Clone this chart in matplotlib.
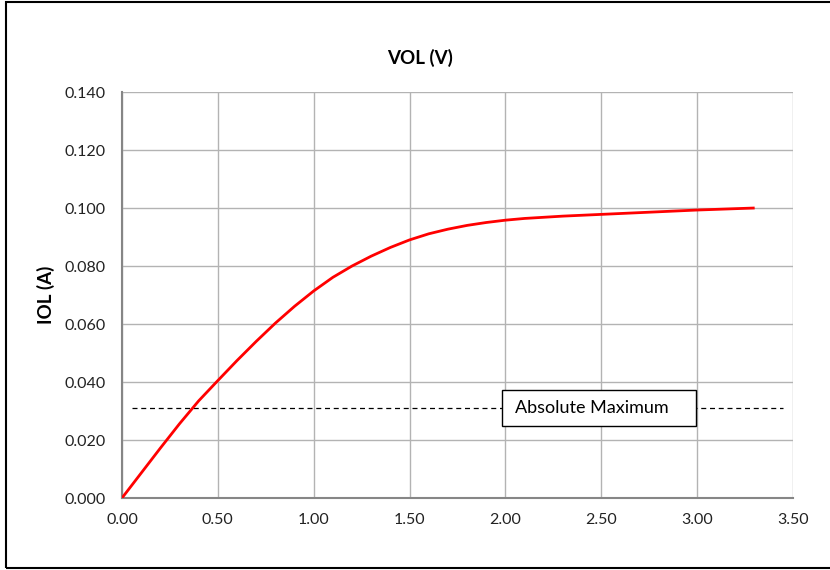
import matplotlib.pyplot as plt
from matplotlib.patches import Rectangle

plt.rcParams['font.family'] = ['Lato', 'DejaVu Sans']

# curve values
vol = [0, 0.1, 0.2, 0.3, 0.4, 0.5, 0.6, 0.7, 0.8, 0.9, 1.0, 1.1, 1.2, 1.3,
       1.4, 1.5, 1.6, 1.7, 1.8, 1.9, 2.0, 2.1, 2.2, 2.3, 2.5, 2.8, 3.0, 3.3]
iol = [0, 0.0086, 0.0172, 0.0256, 0.0335, 0.0405, 0.0474, 0.0540, 0.0603,
       0.0661, 0.0714, 0.0761, 0.0800, 0.0834, 0.0864, 0.0890, 0.0911,
       0.0927, 0.0940, 0.0950, 0.0958, 0.0964, 0.0968, 0.0972, 0.0978,
       0.0987, 0.0993, 0.1000]

abs_max = 0.031
abs_max_x = [0.05, 3.45]
x_ticks = [0.0, 0.5, 1.0, 1.5, 2.0, 2.5, 3.0, 3.5]
y_ticks = [0.0, 0.02, 0.04, 0.06, 0.08, 0.10, 0.12, 0.14]

fig = plt.figure(figsize=(8.3, 5.7), dpi=100)
ax = fig.add_axes([122 / 830, 72 / 570, 671 / 830, 406 / 570])

ax.plot(vol, iol, color='#ff0000', lw=2, zorder=5, solid_capstyle='butt', solid_joinstyle='round')
ax.plot(abs_max_x, [abs_max, abs_max], color='black', lw=0.9, ls=(0, (4, 3)), zorder=4)

# label box for the absolute maximum line
ax.add_patch(Rectangle((1.982, 0.0248), 1.012, 0.0124, fc='white', ec='black', lw=1, zorder=6))
ax.text(2.05, abs_max, 'Absolute Maximum', fontsize=13, va='center', ha='left', zorder=7)

ax.set_xlim(0, 3.5)
ax.set_ylim(0, 0.14)
ax.set_xticks(x_ticks)
ax.set_yticks(y_ticks)
ax.set_xticklabels([f'{v:.2f}' for v in x_ticks])
ax.set_yticklabels([f'{v:.3f}' for v in y_ticks])
ax.tick_params(length=0, labelsize=11.5, colors='#222222')
ax.tick_params(axis='x', pad=11)
ax.tick_params(axis='y', pad=12)
ax.grid(True, color='#b3b3b3', lw=1)
ax.set_axisbelow(True)
for s in ['top', 'right']:
    ax.spines[s].set_visible(False)
for s in ['left', 'bottom']:
    ax.spines[s].set_color('#868686')
    ax.spines[s].set_linewidth(1.5)

ax.set_ylabel('IOL (A)', fontsize=13.5, fontweight='bold')
ax.yaxis.set_label_coords(-0.1, 0.5)
fig.text(420 / 830, 512 / 570, 'VOL (V)', fontsize=13.5, fontweight='bold', ha='center', va='center')

# outer frame
fig.patches.append(Rectangle((6 / 830, 2 / 570), 830 / 830, 566 / 570, transform=fig.transFigure,
                             fill=False, ec='black', lw=1.5))

plt.savefig('out.png', dpi=100)
plt.close()
